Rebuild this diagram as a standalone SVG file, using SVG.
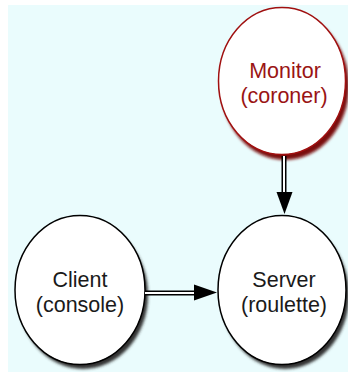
<svg xmlns="http://www.w3.org/2000/svg" width="348" height="378" viewBox="0 0 348 378">
<defs>
<filter id="sh" x="-20%" y="-20%" width="140%" height="140%"><feGaussianBlur stdDeviation="1.5"/></filter>
<style>
.lbl{font-family:"Liberation Sans",Arial,sans-serif;font-size:21.5px;text-anchor:middle}
.node{fill:#ffffff;stroke:#000;stroke-width:1.5}
.mon{fill:#ffffff;stroke:#a01010;stroke-width:1.5}
.outer{stroke:#000;stroke-width:5;fill:none}
.inner{stroke:#fff;stroke-width:2;fill:none}
</style>
</defs>
<rect x="0" y="0" width="348" height="378" fill="#ffffff"/>
<rect x="8" y="5" width="340" height="367" fill="#eafcfd"/>
<g id="monitor">
<ellipse cx="285" cy="86" rx="64" ry="74" fill="#7a0c0c" filter="url(#sh)"/>
<ellipse class="mon" cx="282" cy="81" rx="63.5" ry="73.5"/>
<text class="lbl" x="285" y="78" fill="#9a1414">Monitor</text>
<text class="lbl" x="284" y="103" fill="#9a1414">(coroner)</text>
</g>
<g id="server">
<ellipse cx="285" cy="295" rx="64" ry="74" fill="#333" filter="url(#sh)"/>
<ellipse class="node" cx="282" cy="290" rx="64" ry="74.5"/>
<text class="lbl" x="284" y="287" fill="#1a1a1a">Server</text>
<text class="lbl" x="284" y="312" fill="#1a1a1a">(roulette)</text>
</g>
<g id="client">
<ellipse cx="83" cy="295" rx="65" ry="74" fill="#333" filter="url(#sh)"/>
<ellipse class="node" cx="80" cy="290" rx="65" ry="74.5"/>
<text class="lbl" x="80" y="287" fill="#1a1a1a">Client</text>
<text class="lbl" x="80" y="312" fill="#1a1a1a">(console)</text>
</g>
<g id="connectors">
<line class="outer" x1="284" y1="156" x2="284" y2="193"/>
<line class="inner" x1="284" y1="156" x2="284" y2="194"/>
<polygon points="276.5,192 292.5,192 284.5,214" fill="#000"/>
<line class="outer" x1="145" y1="293" x2="195" y2="293"/>
<line class="inner" x1="145" y1="293" x2="196" y2="293"/>
<polygon points="194,284.5 194,300.5 217,292.5" fill="#000"/>
</g>
</svg>
